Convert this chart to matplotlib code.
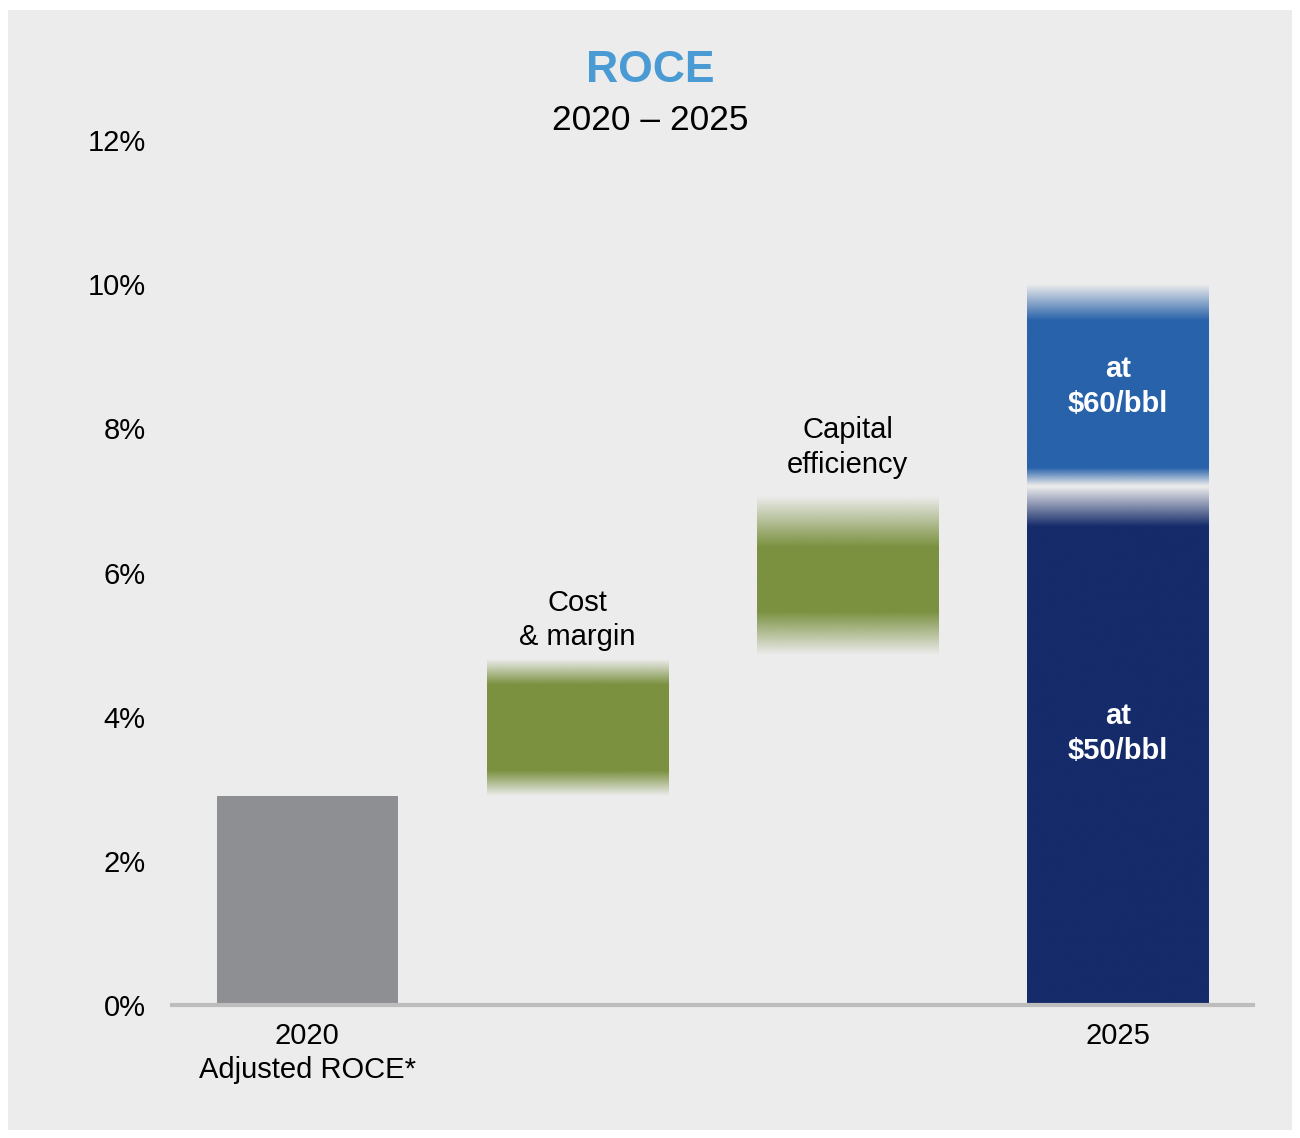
import numpy as np
import matplotlib
matplotlib.use("Agg")
import matplotlib.pyplot as plt
from matplotlib.patches import Rectangle

plt.rcParams['font.family'] = ['Liberation Sans', 'DejaVu Sans']

# data (ROCE, %)
categories = ["2020\nAdjusted ROCE*", "Cost\n& margin", "Capital\nefficiency", "2025"]
bar_bottoms = [0.0, 2.9, 4.85, 0.0]
bar_tops = [2.9, 4.8, 7.05, 7.2]
upper_bottom = 7.2     # $60/bbl segment of 2025
upper_top = 10.0
ytick_vals = [0, 2, 4, 6, 8, 10, 12]
ytick_labels = ["0%", "2%", "4%", "6%", "8%", "10%", "12%"]

grey = "#8e8f93"
green = "#7b9140"
navy = "#152b6a"
blue = "#2862aa"

fig = plt.figure(figsize=(13, 11.38), dpi=100)
fig.patch.set_facecolor("white")
fig.patches.append(Rectangle((8 / 1300, 8 / 1138), 1284 / 1300, 1120 / 1138,
                             transform=fig.transFigure, facecolor="#ececec",
                             edgecolor="none", zorder=-10))

ax = fig.add_axes([172 / 1300, 133 / 1138, 1081 / 1300, 865 / 1138])
ax.set_facecolor("none")

width = 0.67


def fade_bar(x, y0, y1, color, fade_bot, fade_top):
    # vertical gradient bar, alpha fades out at the ends
    n = 400
    ys = np.linspace(y1, y0, n)
    alpha = np.ones(n)
    if fade_bot > 0:
        alpha = np.minimum(alpha, (ys - y0) / fade_bot)
    if fade_top > 0:
        alpha = np.minimum(alpha, (y1 - ys) / fade_top)
    alpha = np.clip(alpha, 0, 1)
    rgba = np.zeros((n, 1, 4))
    rgba[:, 0, :3] = matplotlib.colors.to_rgb(color)
    rgba[:, 0, 3] = alpha
    ax.imshow(rgba, extent=[x - width / 2, x + width / 2, y0, y1],
              aspect="auto", interpolation="bilinear", zorder=2)


# 2020 bar
ax.bar(0, bar_tops[0] - bar_bottoms[0], bottom=bar_bottoms[0], width=width,
       color=grey, zorder=2)
# green steps
fade_bar(1, bar_bottoms[1], bar_tops[1], green, 0.35, 0.35)
fade_bar(2, bar_bottoms[2], bar_tops[2], green, 0.6, 0.7)
# 2025 stacked
fade_bar(3, bar_bottoms[3], bar_tops[3], navy, 0.0, 0.55)
fade_bar(3, upper_bottom, upper_top, blue, 0.25, 0.5)

fs = 21
# labels above the green bars
ax.text(1, 5.34, categories[1], ha="center", va="center",
        fontsize=fs, linespacing=1.3)
ax.text(2, 7.73, categories[2], ha="center", va="center",
        fontsize=fs, linespacing=1.3)

# labels inside the 2025 bar
ax.text(3, 3.77, "at\n$50/bbl", ha="center", va="center", color="white",
        fontsize=fs, fontweight="bold", linespacing=1.3, zorder=3)
ax.text(3, 8.58, "at\n$60/bbl", ha="center", va="center", color="white",
        fontsize=fs, fontweight="bold", linespacing=1.3, zorder=3)

ax.set_xlim(-0.5, 3.5)
ax.set_ylim(0, 12)
ax.set_yticks(ytick_vals)
ax.set_yticklabels(ytick_labels, fontsize=fs)
ax.set_xticks([0, 3])
ax.set_xticklabels([categories[0], categories[3]], fontsize=fs, linespacing=1.3)
ax.tick_params(axis="both", length=0)
ax.tick_params(axis="y", pad=19)
ax.tick_params(axis="x", pad=12)
for s in ["left", "right", "top"]:
    ax.spines[s].set_visible(False)
ax.spines["bottom"].set_color("#bdbdbd")
ax.spines["bottom"].set_linewidth(3)
ax.spines["bottom"].set_zorder(4)

fig.text(0.5, 1 - 71 / 1138, "ROCE", ha="center", va="center", fontsize=32,
         fontweight="bold", color="#4a9bd4")
fig.text(0.5, 1 - 120 / 1138, "2020 – 2025", ha="center", va="center",
         fontsize=25.5)

fig.savefig("out.png", dpi=100)
